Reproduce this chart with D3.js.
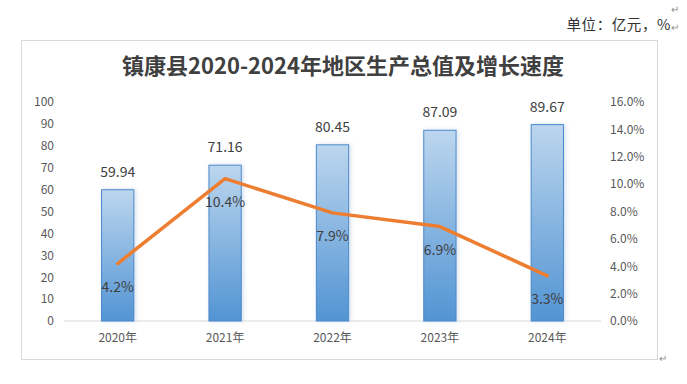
<!DOCTYPE html>
<html><head><meta charset="utf-8">
<script src="https://cdn.jsdelivr.net/npm/d3@7"></script>
<style>
html,body{margin:0;padding:0;background:#fff;}
svg text{font-family:"Noto Sans CJK SC","Noto Sans",sans-serif;}
</style></head>
<body>
<script>
const title = "镇康县2020-2024年地区生产总值及增长速度";
const unitNote = "单位：亿元，%";
const categories = ["2020年","2021年","2022年","2023年","2024年"];
const gdpValues = [59.94, 71.16, 80.45, 87.09, 89.67];
const growthRates = [4.2, 10.4, 7.9, 6.9, 3.3];
const leftTicks = [0,10,20,30,40,50,60,70,80,90,100];
const rightTicks = [0,2,4,6,8,10,12,14,16];

const W = 687, H = 384;
const svg = d3.select("body").append("svg").attr("width", W).attr("height", H);

const defs = svg.append("defs");
const grad = defs.append("linearGradient").attr("id","barGrad").attr("x1",0).attr("y1",0).attr("x2",0).attr("y2",1);
grad.append("stop").attr("offset","0%").attr("stop-color","#BCD6EE");
grad.append("stop").attr("offset","100%").attr("stop-color","#5294D3");
const filt = defs.append("filter").attr("id","shadow").attr("x","-30%").attr("y","-10%").attr("width","160%").attr("height","120%");
filt.append("feDropShadow").attr("dx",1.5).attr("dy",0).attr("stdDeviation",2).attr("flood-color","#9db8d6").attr("flood-opacity",0.45);

// frame
svg.append("rect").attr("x",21.5).attr("y",40.5).attr("width",636).attr("height",319)
  .attr("fill","#fff").attr("stroke","#d9d9d9").attr("stroke-width",1);

// paragraph marks & unit note
const markColor = "#8c8c8c";
svg.append("text").attr("x",671).attr("y",13).attr("font-size",10).attr("fill",markColor).text("↵");
svg.append("text").attr("x",671).attr("y",30).attr("text-anchor","end").attr("font-size",14.5)
  .attr("letter-spacing",0.6).attr("fill","#333").text(unitNote);
svg.append("text").attr("x",671).attr("y",31).attr("font-size",10).attr("fill",markColor).text("↵");
svg.append("text").attr("x",659).attr("y",362).attr("font-size",10).attr("fill",markColor).text("↵");

// title
svg.append("text").attr("x",343).attr("y",74).attr("text-anchor","middle")
  .attr("font-size",22).attr("font-weight","bold").attr("fill","#404040").text(title);

const x = d3.scaleBand().domain(categories).range([64, 601]).paddingInner(0.69).paddingOuter(0.345);
const yL = d3.scaleLinear().domain([0,100]).range([321,102]);
const yR = d3.scaleLinear().domain([0,16]).range([321,102]);

// baseline
svg.append("line").attr("x1",64).attr("x2",601).attr("y1",321).attr("y2",321).attr("stroke","#d9d9d9").attr("stroke-width",1);

// left axis
const gL = svg.append("g").attr("transform","translate(60,0)")
  .call(d3.axisLeft(yL).tickValues(leftTicks).tickSize(0).tickPadding(6));
gL.select(".domain").remove();
gL.selectAll("text").attr("font-size",12).attr("fill","#595959").attr("font-family","'Noto Sans',sans-serif");

// right axis
const gR = svg.append("g").attr("transform","translate(606,0)")
  .call(d3.axisRight(yR).tickValues(rightTicks).tickSize(0).tickPadding(4).tickFormat(d => d.toFixed(1) + "%"));
gR.select(".domain").remove();
gR.selectAll("text").attr("font-size",12).attr("fill","#595959").attr("font-family","'Noto Sans',sans-serif");

// x axis
const gX = svg.append("g").attr("transform","translate(0,321)")
  .call(d3.axisBottom(x).tickSize(0).tickPadding(12));
gX.select(".domain").remove();
gX.selectAll("text").attr("font-size",12).attr("fill","#595959");

// bars
svg.append("g").selectAll("rect").data(gdpValues).join("rect")
  .attr("x",(d,i)=>x(categories[i])+0.5).attr("width",x.bandwidth()-1)
  .attr("y",d=>yL(d)).attr("height",d=>yL(0)-yL(d))
  .attr("fill","url(#barGrad)").attr("stroke","#4A89CC").attr("stroke-width",1)
  .attr("filter","url(#shadow)");

// bar labels
svg.append("g").selectAll("text").data(gdpValues).join("text")
  .attr("x",(d,i)=>x(categories[i])+x.bandwidth()/2).attr("y",d=>yL(d)-13)
  .attr("text-anchor","middle").attr("font-size",14).attr("fill","#404040")
  .attr("font-family","'Noto Sans',sans-serif")
  .text(d=>d.toFixed(2));

// line
const line = d3.line().x((d,i)=>x(categories[i])+x.bandwidth()/2).y(d=>yR(d));
svg.append("path").datum(growthRates).attr("d",line).attr("fill","none")
  .attr("stroke","#ED7D31").attr("stroke-width",3.5).attr("stroke-linejoin","round").attr("stroke-linecap","round");

// line labels
svg.append("g").selectAll("text").data(growthRates).join("text")
  .attr("x",(d,i)=>x(categories[i])+x.bandwidth()/2).attr("y",d=>yR(d)+28)
  .attr("text-anchor","middle").attr("font-size",14).attr("fill","#404040")
  .attr("font-family","'Noto Sans',sans-serif")
  .text(d=>d.toFixed(1)+"%");
</script>
</body></html>
